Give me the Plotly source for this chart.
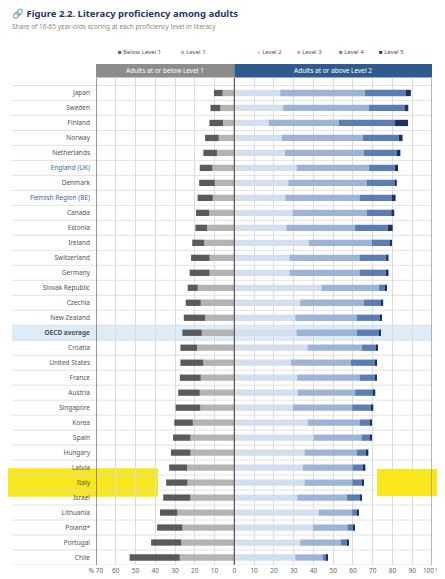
import plotly.graph_objects as go

countries = ["Japan", "Sweden", "Finland", "Norway", "Netherlands", "England (UK)", "Denmark",
             "Flemish Region (BE)", "Canada", "Estonia", "Ireland", "Switzerland", "Germany",
             "Slovak Republic", "Czechia", "New Zealand", "OECD average", "Croatia", "United States",
             "France", "Austria", "Singapore", "Korea", "Spain", "Hungary", "Latvia", "Italy",
             "Israel", "Lithuania", "Poland*", "Portugal", "Chile"]

below_level1 = [4.4, 5.0, 6.9, 6.9, 6.9, 6.4, 7.9, 7.7, 6.6, 5.9, 6.1, 9.4, 10.1, 5.1, 7.6, 10.8,
                9.8, 8.4, 11.6, 10.6, 10.9, 12.5, 9.4, 8.8, 9.9, 9.1, 10.8, 13.8, 8.8, 12.8, 15.2, 25.4]
level1 = [5.9, 7.1, 5.7, 7.9, 8.8, 11.1, 9.9, 10.9, 12.8, 13.8, 15.2, 12.5, 12.5, 18.5, 17.0, 14.8,
          16.5, 18.9, 15.7, 17.0, 17.5, 17.2, 21.0, 22.2, 22.2, 23.9, 23.7, 22.2, 28.8, 26.3, 26.9, 27.6]
level2 = [23.2, 24.7, 17.3, 24.1, 25.6, 31.5, 27.3, 25.8, 29.5, 26.3, 37.7, 27.9, 27.9, 44.1, 33.3, 30.8,
          31.5, 37.0, 28.6, 31.8, 32.0, 29.6, 37.0, 40.1, 35.5, 34.7, 35.5, 31.8, 42.6, 39.7, 33.3, 30.8]
level3 = [42.9, 43.4, 35.5, 40.9, 39.9, 36.7, 39.6, 37.7, 37.4, 34.8, 31.8, 35.4, 35.5, 29.1, 32.3, 31.1,
          30.5, 27.6, 30.3, 31.6, 29.1, 30.0, 26.4, 24.2, 26.4, 25.1, 24.2, 25.1, 17.0, 17.5, 20.5, 14.0]
level4 = [20.5, 18.0, 28.5, 18.2, 16.8, 13.1, 14.1, 16.2, 12.5, 16.5, 9.3, 13.5, 13.3, 3.2, 8.9, 11.8,
          11.4, 7.1, 12.5, 7.9, 9.4, 9.9, 5.6, 4.4, 5.2, 5.7, 5.1, 6.7, 2.5, 3.0, 3.4, 2.0]
level5 = [2.7, 1.9, 6.6, 1.9, 1.7, 1.5, 1.2, 1.9, 1.5, 2.5, 0.5, 1.2, 1.3, 0.7, 0.8, 1.0,
          0.8, 0.7, 0.8, 0.8, 0.8, 0.8, 0.5, 0.5, 0.7, 0.8, 0.7, 0.8, 0.7, 0.7, 0.7, 0.5]

x_ticks = [-70, -60, -50, -40, -30, -20, -10, 0, 10, 20, 30, 40, 50, 60, 70, 80, 90, 100]
x_ticktext = ["% 70", "60", "50", "40", "30", "20", "10", "0", "10", "20", "30", "40", "50",
              "60", "70", "80", "90", "100 %"]

blue_labels = ["England (UK)", "Flemish Region (BE)"]
highlight = "Italy"
average = "OECD average"

series_names = ["Below Level 1", "Level 1", "Level 2", "Level 3", "Level 4", "Level 5"]
series_colors = ["#5a5a5a", "#b4b4b4", "#d3deee", "#9db4d6", "#5b7db3", "#1c3160"]

FONT = "Noto Sans"
n = len(countries)
idx = list(range(n))

# the page body adds an 8px offset, so the figure is drawn 8px smaller
OFF = 8
W, H = 445 - OFF, 579 - OFF

fig = go.Figure()
# left side (negative), nearest zero first
for vals, name, col in [(level1, series_names[1], series_colors[1]),
                        (below_level1, series_names[0], series_colors[0])]:
    fig.add_trace(go.Bar(y=idx, x=[-v for v in vals], orientation="h", name=name,
                         marker=dict(color=col, line=dict(width=0)), showlegend=False))
for vals, name, col in zip([level2, level3, level4, level5], series_names[2:], series_colors[2:]):
    fig.add_trace(go.Bar(y=idx, x=vals, orientation="h", name=name,
                         marker=dict(color=col, line=dict(width=0)), showlegend=False))

shapes = []
# plot box in screen pixels
PX_L, PX_R = 96, 432
PX_T, PX_B = 78, 565
def px_to_paper(px):
    return (px - PX_L) / (PX_R - PX_L)
def py_to_paper(py):
    return 1 + (PX_T - py) / (PX_B - PX_T)

# OECD average band
ai = countries.index(average)
shapes.append(dict(type="rect", xref="paper", yref="y", x0=px_to_paper(12), x1=1,
                   y0=ai - 0.5, y1=ai + 0.5, fillcolor="#dcecf8", line=dict(width=0), layer="below"))
# yellow highlighter on Italy
hi = countries.index(highlight)
shapes.append(dict(type="rect", xref="paper", yref="y", x0=px_to_paper(8), x1=px_to_paper(158),
                   y0=hi - 0.95, y1=hi + 0.95, fillcolor="#f8e71c", line=dict(width=0), layer="below"))
shapes.append(dict(type="rect", xref="paper", yref="y", x0=px_to_paper(377), x1=px_to_paper(437),
                   y0=hi - 0.9, y1=hi + 0.9, fillcolor="#f8e71c", line=dict(width=0), layer="above"))
# row separators
for i in range(n + 1):
    shapes.append(dict(type="line", xref="paper", yref="y", x0=px_to_paper(12), x1=1,
                       y0=i - 0.5, y1=i - 0.5, line=dict(color="#dadada", width=0.8), layer="below"))
# vertical border lines
for xv, col in [(-70, "#555555"), (0, "#555555"), (100, "#8a8a8a")]:
    shapes.append(dict(type="line", xref="x", yref="paper", x0=xv, x1=xv, y0=0, y1=1,
                       line=dict(color=col, width=1.2), layer="above"))
# header bars
hy0 = py_to_paper(77.5)
hy1 = py_to_paper(64)
shapes.append(dict(type="rect", xref="x", yref="paper", x0=-70, x1=0, y0=hy0, y1=hy1,
                   fillcolor="#8c8c8c", line=dict(width=0), layer="below"))
shapes.append(dict(type="rect", xref="x", yref="paper", x0=0, x1=100, y0=hy0, y1=hy1,
                   fillcolor="#2f5a8e", line=dict(width=0), layer="below"))

annotations = [
    dict(text="Adults at or below Level 1", x=-35, y=(hy0 + hy1) / 2, xref="x", yref="paper",
         xanchor="center", yanchor="middle", showarrow=False,
         font=dict(size=6.5, color="white", family=FONT)),
    dict(text="Adults at or above Level 2", x=50, y=(hy0 + hy1) / 2, xref="x", yref="paper",
         xanchor="center", yanchor="middle", showarrow=False,
         font=dict(size=6.5, color="white", family=FONT)),
]

# compact legend built from the series names
legend_px = [116, 179, 255, 295, 337, 377]
ly = py_to_paper(52)
for name, col, lx in zip(series_names, series_colors, legend_px):
    annotations.append(dict(text=f'<span style="color:{col}">\u25a0</span> {name}',
                            x=px_to_paper(lx), y=ly, xref="paper", yref="paper",
                            xanchor="left", yanchor="middle", showarrow=False,
                            font=dict(size=6, color="#555555", family=FONT)))

tick_text = []
for c in countries:
    if c in blue_labels:
        tick_text.append(f'<span style="color:#3d63a3">{c}</span>')
    elif c == average:
        tick_text.append(f"<b>{c}</b>")
    else:
        tick_text.append(c)

fig.update_layout(
    width=W, height=H,
    margin=dict(l=PX_L - OFF, r=445 - PX_R, t=PX_T - OFF, b=579 - PX_B, autoexpand=False),
    barmode="relative", bargap=0.58,
    paper_bgcolor="white", plot_bgcolor="rgba(0,0,0,0)",
    font=dict(family=FONT, size=7, color="#555555"),
    title=dict(text="<b>\U0001F517 Figure 2.2. Literacy proficiency among adults</b>"
                    "<br><span style='font-size:6.5px;color:#8a8a8a'>"
                    "Share of 16-65 year-olds scoring at each proficiency level in literacy</span>",
               x=4 / W, xanchor="left", y=0.985, yanchor="top",
               font=dict(size=9.5, color="#1f3864", family=FONT)),
    shapes=shapes, annotations=annotations,
    xaxis=dict(range=[-70, 100], tickvals=x_ticks, ticktext=x_ticktext, showgrid=True,
               gridcolor="#dcdcdc", gridwidth=0.8, zeroline=False, ticks="", showline=False,
               automargin=False, tickfont=dict(size=6.5, color="#666666")),
    yaxis=dict(range=[n - 0.5, -1.0], tickvals=idx, ticktext=tick_text, showgrid=False,
               zeroline=False, ticks="", ticklabelstandoff=5, automargin=False,
               tickfont=dict(size=6.5, color="#555555")),
    showlegend=False,
)

fig.write_html("out.html")
